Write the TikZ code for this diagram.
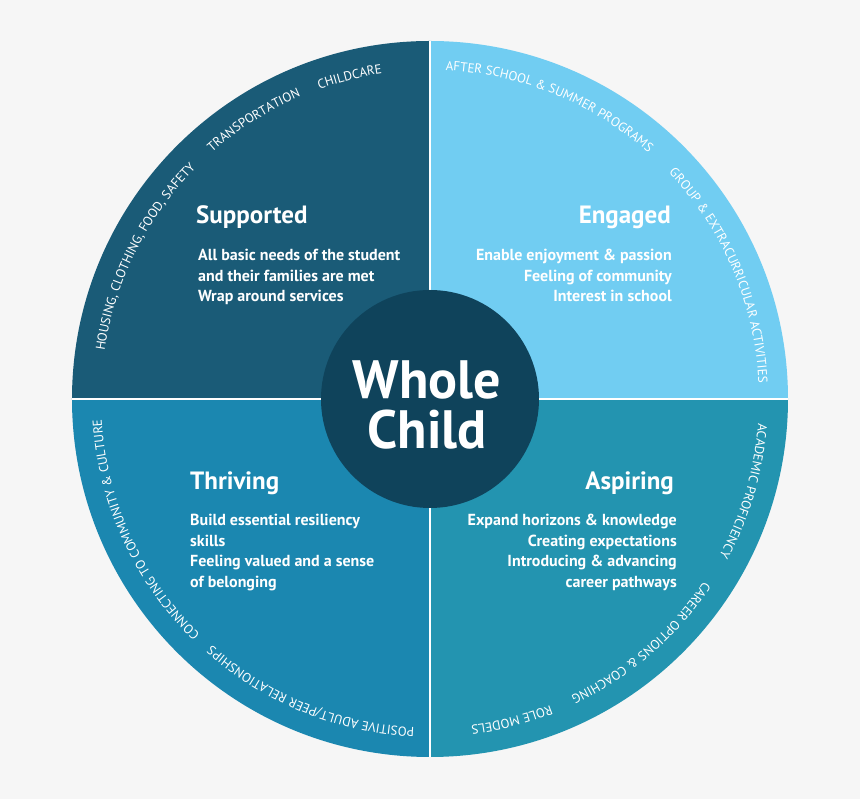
\documentclass[tikz,border=0pt]{standalone}
\usepackage{fontspec}
\setmainfont{PT Sans}
\usetikzlibrary{decorations.text}

\definecolor{bgcol}{HTML}{F6F6F6}
\definecolor{supportcol}{HTML}{1A5B77}
\definecolor{engagecol}{HTML}{71CDF2}
\definecolor{thrivecol}{HTML}{1B87B0}
\definecolor{aspirecol}{HTML}{2394B0}
\definecolor{hubcol}{HTML}{0F435B}

\tikzset{
  heading/.style={text=white, inner sep=0,
    font=\fontsize{25}{28}\selectfont\bfseries},
  bodytext/.style={text=white, inner sep=0,
    font=\fontsize{16}{20.5}\selectfont\bfseries},
  rimtext/.style={decorate, decoration={text along path,
    text align=center, text color=white,
    text={|\fontsize{13}{15}\selectfont|#1}}}
}

\begin{document}
\begin{tikzpicture}[x=1pt,y=1pt]

\newdimen\R
\R=358pt
\newdimen\Rt
\Rt=329pt

\fill[bgcol] (-430,-400) rectangle (430,399);
\useasboundingbox (-430,-400) rectangle (430,399);

%%%%%%%%% quadrants
\foreach \a/\col in {0/engagecol,90/supportcol,180/thrivecol,270/aspirecol}
  \fill[\col] (0,0) -- (\a:\R) arc[start angle=\a, delta angle=90, radius=\R] -- cycle;
\draw[white, line width=2.5pt] (90:\R) -- (270:\R);
\draw[white, line width=2.5pt] (180:\R) -- (0:\R);

%%%%%%%%% rim labels (centred on their arcs)
\path[rimtext={HOUSING, CLOTHING, FOOD, SAFETY}] (175:\Rt) arc[start angle=175, end angle=132, radius=\Rt];
\path[rimtext={TRANSPORTATION}] (134.7:\Rt) arc[start angle=134.7, end angle=109.9, radius=\Rt];
\path[rimtext={CHILDCARE}] (113:\Rt) arc[start angle=113, end angle=95, radius=\Rt];
\path[rimtext={AFTER SCHOOL {\&} SUMMER PROGRAMS}] (91.3:\Rt) arc[start angle=91.3, end angle=44.4, radius=\Rt];
\path[rimtext={GROUP {\&} EXTRACURRICULAR ACTIVITIES}] (47:\Rt) arc[start angle=47, end angle=-0.8, radius=\Rt];
\path[rimtext={ACADEMIC PROFICIENCY}] (-1:\Rt) arc[start angle=-1, end angle=-31.6, radius=\Rt];
\path[rimtext={CAREER OPTIONS {\&} COACHING}] (-30.3:\Rt) arc[start angle=-30.3, end angle=-68, radius=\Rt];
\path[rimtext={ROLE MODELS}] (-65.4:\Rt) arc[start angle=-65.4, end angle=-86, radius=\Rt];
\path[rimtext={POSITIVE ADULT/PEER RELATIONSHIPS}] (271.3:\Rt) arc[start angle=271.3, end angle=224.5, radius=\Rt];
\path[rimtext={CONNECTING TO COMMUNITY {\&} CULTURE}] (228.8:\Rt) arc[start angle=228.8, end angle=180.4, radius=\Rt];

%%%%%%%%% quadrant texts (base = last line)
\node[heading, anchor=base west] (supported) at (-234,175) {Supported};
\node[bodytext, anchor=base west, align=left] (supportedtxt) at (-232,97)
  {All basic needs of the student\\and their families are met\\Wrap around services};

\node[heading, anchor=base east] (engaged) at (241,175) {Engaged};
\node[bodytext, anchor=base east, align=right] (engagedtxt) at (242,97)
  {Enable enjoyment \& passion\\Feeling of community\\Interest in school};

\node[heading, anchor=base west] (thriving) at (-240,-91) {Thriving};
\node[bodytext, anchor=base west, align=left] (thrivingtxt) at (-240,-188.5)
  {Build essential resiliency\\skills\\Feeling valued and a sense\\of belonging};

\node[heading, anchor=base east] (aspiring) at (244,-91) {Aspiring};
\node[bodytext, anchor=base east, align=right] (aspiringtxt) at (247,-188.5)
  {Expand horizons \& knowledge\\Creating expectations\\Introducing \& advancing\\career pathways};

%%%%%%%%% hub
\node[circle, fill=hubcol, minimum size=218pt, inner sep=0] (hub) at (0,0) {};
\node[text=white, align=center, inner sep=0,
  font=\fontsize{54}{50}\selectfont\bfseries] (hubtxt) at (-3,-6) {Whole\\Child};

\end{tikzpicture}
\end{document}
